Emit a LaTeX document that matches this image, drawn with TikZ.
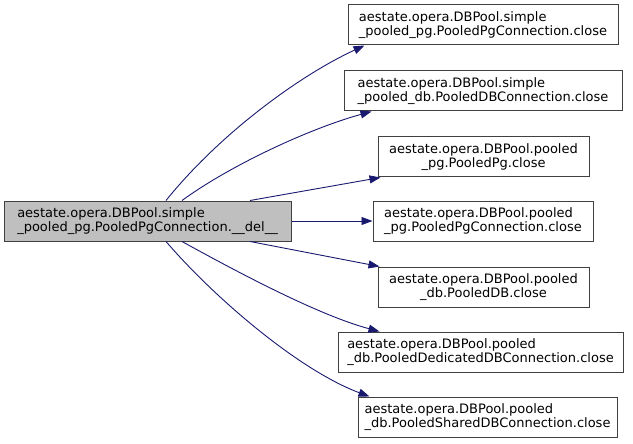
\documentclass[tikz,border=0pt]{standalone}
\usepackage{fontspec}
\setmainfont{DejaVu Sans}
\usetikzlibrary{arrows.meta}
\definecolor{edgeblue}{HTML}{191970}
\definecolor{boxline}{HTML}{404040}
\definecolor{mainfill}{HTML}{BFBFBF}
\begin{document}
\begin{tikzpicture}[x=1pt,y=-1pt,
  fn/.style={draw=boxline,line width=1pt,fill=white,rectangle,minimum height=40pt,inner sep=0pt,
    font=\fontsize{13pt}{14pt}\selectfont,align=left},
  fnc/.style={fn,align=center},
  call/.style={draw=edgeblue,line width=0.9pt,-{Triangle[length=11pt,width=8pt]}}]
\useasboundingbox (0,0) rectangle (633,444);
\node[fn,fill=mainfill,minimum width=287pt] (m) at (147.5,221) {aestate.opera.DBPool.simple\\\_pooled\_pg.PooledPgConnection.\_\_del\_\_};
\node[fn,minimum width=270pt] (b1) at (483,25) {aestate.opera.DBPool.simple\\\_pooled\_pg.PooledPgConnection.close};
\node[fn,minimum width=278pt] (b2) at (483,91) {aestate.opera.DBPool.simple\\\_pooled\_db.PooledDBConnection.close};
\node[fnc,minimum width=211pt] (b3) at (483.5,157) {aestate.opera.DBPool.pooled\\\_pg.PooledPg.close};
\node[fn,minimum width=220pt] (b4) at (483,221) {aestate.opera.DBPool.pooled\\\_pg.PooledPgConnection.close};
\node[fnc,minimum width=211pt] (b5) at (483.5,287) {aestate.opera.DBPool.pooled\\\_db.PooledDB.close};
\node[fn,minimum width=285pt] (b6) at (480.5,352) {aestate.opera.DBPool.pooled\\\_db.PooledDedicatedDBConnection.close};
\node[fn,minimum width=259pt] (b7) at (487.5,417) {aestate.opera.DBPool.pooled\\\_db.PooledSharedDBConnection.close};
\draw[call] ([xshift=18.5pt]m.north) .. controls +(54,-67) and +(-65,30) .. ([xshift=17pt]b1.south west);
\draw[call] ([xshift=34.5pt]m.north) .. controls +(48,-35) and +(-62,17) .. ([xshift=28pt]b2.south west);
\draw[call] ([xshift=102.5pt]m.north) -- ([xshift=3pt]b3.south west);
\draw[call] (m.east) -- (b4.west);
\draw[call] ([xshift=102.5pt]m.south) -- ([xshift=2pt]b5.north west);
\draw[call] ([xshift=34.5pt]m.south) .. controls +(58,32) and +(-60,-16) .. ([xshift=42pt]b6.north west);
\draw[call] ([xshift=18.5pt]m.south) .. controls +(49,57) and +(-70,-26) .. ([xshift=12pt]b7.north west);
\end{tikzpicture}
\end{document}
